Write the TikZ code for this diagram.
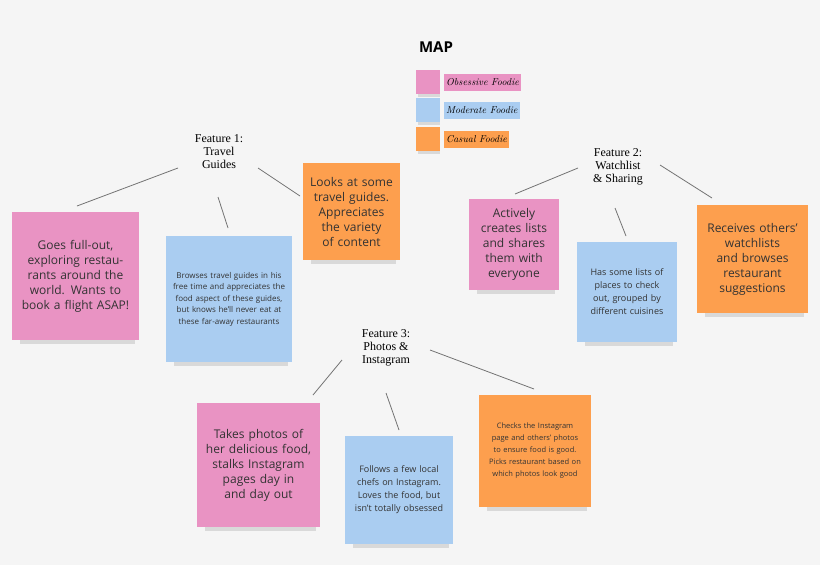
\documentclass[tikz,border=0pt]{standalone}
\usepackage{fontspec}
\setmainfont{Open Sans}
\newfontfamily\serifF{Liberation Serif}
\newfontfamily\hand{Latin Modern Roman}
\begin{document}
\begin{tikzpicture}[x=1pt,y=-1pt,
  note/.style={draw=none,align=center,inner sep=4pt,font=\fontsize{12}{15}\selectfont,text=black!80},
  feat/.style={align=center,font=\serifF\fontsize{12}{13}\selectfont},
  ln/.style={draw=black!55,line width=0.8pt},
  lg/.style={anchor=west,inner sep=2pt,font=\hand\itshape\fontsize{10}{12}\selectfont,minimum height=17pt}]
\definecolor{pk}{HTML}{E993C3}\definecolor{bl}{HTML}{AACDF1}\definecolor{og}{HTML}{FD9F4E}
\fill[black!4] (0,0) rectangle (820,565);
\useasboundingbox (0,0) rectangle (820,565);
\newcommand\snote[8]{%
  \fill[black!25,opacity=0.5] (#2+8,#5-4) rectangle (#4-4,#5+4);
  \fill[#6] (#2,#3) rectangle (#4,#5);
  \node[note,#7,text width=#4-#2-12pt] (#1) at ({(#2+#4)/2},{(#3+#5)/2}) {#8};}
\snote{p1}{12}{212}{139}{340}{pk}{}{Goes full-out, exploring restaurants around the world. Wants to book a flight ASAP!}
\snote{b1}{166}{236}{292}{362}{bl}{font=\fontsize{8}{11.5}\selectfont}{Browses travel guides in his free time and appreciates the food aspect of these guides, but knows he'll never eat at these far-away restaurants}
\snote{o1}{303}{163}{400}{260}{og}{}{Looks at some travel guides. Appreciates the variety of content}
\snote{p2}{469}{199}{559}{290}{pk}{}{Actively creates lists and shares them with everyone}
\snote{b2}{577}{242}{677}{342}{bl}{font=\fontsize{9}{13}\selectfont}{Has some lists of places to check out, grouped by different cuisines}
\snote{o2}{697}{205}{808}{313}{og}{}{Receives others' watchlists and browses restaurant suggestions}
\snote{p3}{197}{403}{320}{527}{pk}{}{Takes photos of her delicious food, stalks Instagram pages day in and day out}
\snote{b3}{345}{436}{453}{544}{bl}{font=\fontsize{9}{13}\selectfont}{Follows a few local chefs on Instagram. Loves the food, but isn't totally obsessed}
\snote{o3}{479}{395}{591}{507}{og}{font=\fontsize{7.5}{12}\selectfont}{Checks the Instagram page and others' photos to ensure food is good. Picks restaurant based on which photos look good}
\node[feat] (f1) at (219,152) {Feature 1:\\Travel\\Guides};
\node[feat] (f2) at (618,167) {Feature 2:\\Watchlist\\\& Sharing};
\node[feat] (f3) at (386,348) {Feature 3:\\Photos \&\\Instagram};
\coordinate (a1) at (77,206);\coordinate (a2) at (228,228);\coordinate (a3) at (300,196);
\coordinate (c1) at (515,194);\coordinate (c2) at (626,236);\coordinate (c3) at (712,198);
\coordinate (d1) at (313,395);\coordinate (d2) at (399,430);\coordinate (d3) at (534,389);
\draw[ln] (178,168) -- (a1); \draw[ln] (218,197) -- (a2); \draw[ln] (258,168) -- (a3);
\draw[ln] (578,168) -- (c1); \draw[ln] (615,208) -- (c2); \draw[ln] (660,165) -- (c3);
\draw[ln] (342,360) -- (d1); \draw[ln] (386,393) -- (d2); \draw[ln] (430,350) -- (d3);
\node[font=\bfseries\fontsize{15}{17}\selectfont] (map) at (436,47) {MAP};
\foreach \y/\c/\t in {82/pk/Obsessive Foodie,110/bl/Moderate Foodie,139/og/Casual Foodie}{
  \fill[black!25,opacity=0.5] (418,\y+9) rectangle (440,\y+15);
  \fill[\c] (416,\y-12) rectangle (440,\y+12);
  \node[lg,fill=\c] at (444,\y) {\t};}
\end{tikzpicture}
\end{document}
